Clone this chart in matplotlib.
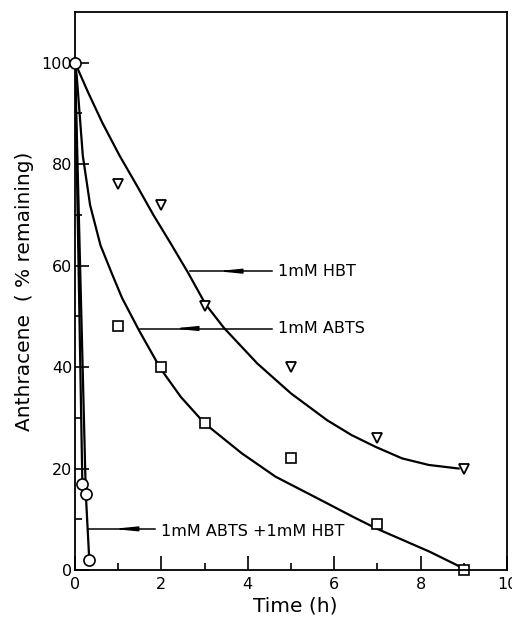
import numpy as np
import matplotlib
matplotlib.use('Agg')
import matplotlib.pyplot as plt

plt.rcParams['font.family'] = ['DejaVu Sans']

# measured points
t_hbt = [1, 2, 3, 5, 7, 9]
y_hbt = [76, 72, 52, 40, 26, 20]
t_abts = [1, 2, 3, 5, 7, 9]
y_abts = [48, 40, 29, 22, 9, 0]
t_both = [0, 0.17, 0.25, 0.33]
y_both = [100, 17, 15, 2]

# fitted curves as drawn
fit_hbt_t = [0, 0.30, 0.63, 1.03, 1.43, 1.82, 2.22, 2.61, 3.02, 3.45,
             4.22, 5.0, 5.84, 6.40, 6.95, 7.57, 8.19, 8.88]
fit_hbt_y = [100, 94.2, 88.2, 81.7, 75.8, 69.9, 64.3, 58.7, 52.4, 47.7,
             40.7, 34.8, 29.5, 26.6, 24.3, 22.0, 20.7, 20.0]
fit_abts_t = [0, 0.04, 0.18, 0.35, 0.59, 0.84, 1.09, 1.49, 1.98, 2.45,
              3.0, 3.86, 4.64, 5.8, 6.43, 6.97, 7.59, 8.21, 8.83, 9.0]
fit_abts_y = [100, 97.4, 81.7, 71.9, 64.0, 58.7, 53.6, 47.1, 39.7, 34.1,
              28.9, 23.0, 18.4, 13.3, 10.5, 8.2, 5.9, 3.6, 1.0, 0.2]
fit_both1_t = [0, 0.17]
fit_both1_y = [100, 17]
fit_both2_t = [0, 0.25, 0.33]
fit_both2_y = [100, 15, 2]

fig = plt.figure(figsize=(5.12, 6.19), dpi=100)
ax = fig.add_axes([0.1465, 0.0792, 0.84375, 0.9015])

for tt, yy in [(fit_hbt_t, fit_hbt_y), (fit_abts_t, fit_abts_y),
               (fit_both1_t, fit_both1_y), (fit_both2_t, fit_both2_y)]:
    ax.plot(tt, yy, 'k-', lw=1.6, solid_joinstyle='round')

ax.plot(t_hbt, y_hbt, 'v', ms=7.5, mfc='white', mec='k', mew=1.3, clip_on=False)
ax.plot(t_abts, y_abts, 's', ms=7.5, mfc='white', mec='k', mew=1.2, clip_on=False)
ax.plot(t_both, y_both, 'o', ms=8, mfc='white', mec='k', mew=1.2, clip_on=False, zorder=5)

def label(text, x0, x1, y, w0, w1, ty=None):
    # leader line, small wedge, text
    ax.plot([x0, x1], [y, y], 'k-', lw=1.1)
    ax.annotate('', xy=(w0, y), xytext=(w1, y),
                arrowprops=dict(arrowstyle='-|>,head_length=1.3,head_width=0.13',
                                color='k', lw=1.1, shrinkA=0, shrinkB=0))
    ax.text(x1 + 0.14, y if ty is None else ty, text, fontsize=11.5, va='center', ha='left')

label('1mM HBT', 2.66, 4.56, 58.9, 3.29, 3.66)
label('1mM ABTS', 1.50, 4.56, 47.6, 2.27, 2.73)
label('1mM ABTS +1mM HBT', 0.30, 1.85, 8.1, 0.88, 1.20, 7.6)

ax.set_xlim(0, 10)
ax.set_ylim(0, 110)
ax.set_xticks([0, 2, 4, 6, 8, 10])
ax.set_xticks([1, 3, 5, 7, 9], minor=True)
ax.set_yticks([0, 20, 40, 60, 80, 100])
ax.set_yticks([10, 30, 50, 70, 90], minor=True)
ax.tick_params(which='both', direction='in', width=1.2, labelsize=11.5)
ax.tick_params(which='major', length=10)
ax.tick_params(which='minor', length=5)
ax.tick_params(axis='x', pad=5)
ax.tick_params(axis='y', pad=2)
for s in ax.spines.values():
    s.set_linewidth(1.3)

ax.set_xlabel('Time (h)', fontsize=14.5)
ax.set_ylabel('Anthracene  ( % remaining)', fontsize=14.5)
ax.xaxis.set_label_coords(0.51, -0.048)
ax.yaxis.set_label_coords(-0.095, 0.5)

fig.savefig('out.png', dpi=100)
